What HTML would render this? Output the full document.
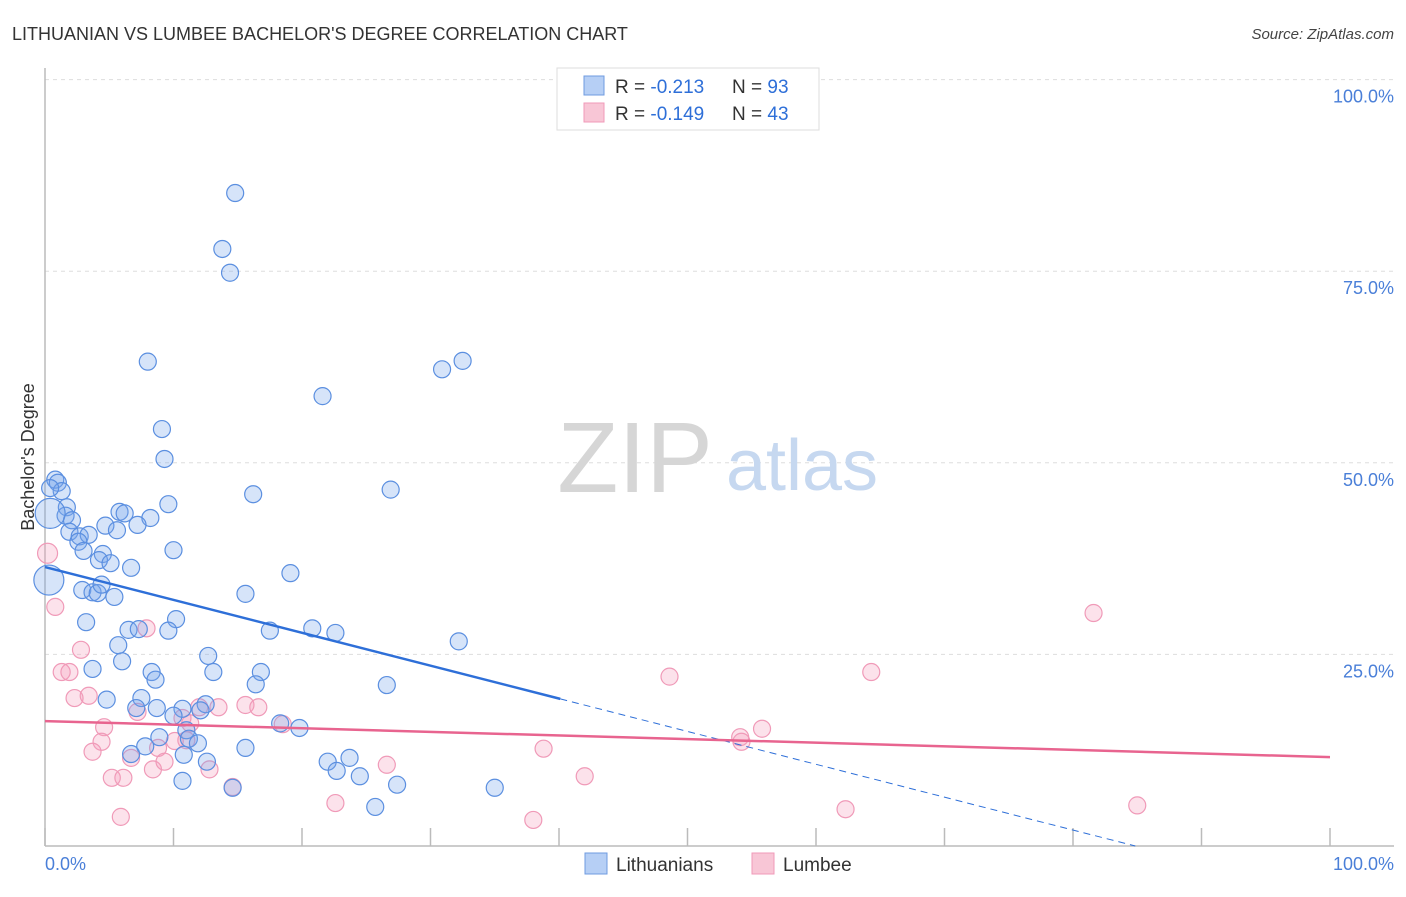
<!DOCTYPE html>
<html><head><meta charset="utf-8"><style>
body{margin:0;background:#fff;font-family:"Liberation Sans",sans-serif;}
svg text{font-family:"Liberation Sans",sans-serif;}
</style></head><body>
<svg id="chart" width="1406" height="892">
<text x="12" y="40" font-size="18" fill="#333">LITHUANIAN VS LUMBEE BACHELOR'S DEGREE CORRELATION CHART</text>
<text x="1394" y="39" font-size="15" fill="#444" font-style="italic" text-anchor="end">Source: ZipAtlas.com</text>
<text x="0" y="0" transform="translate(34,457) rotate(-90)" font-size="18" fill="#333" text-anchor="middle">Bachelor's Degree</text>
<g id="grid"></g>
<g>
<text x="635" y="492" font-size="100" font-family="Liberation Serif" fill="#d6d6d6" text-anchor="middle">ZIP</text>
<text x="802" y="490" font-size="72" fill="#c6d8f0" text-anchor="middle">atlas</text>
</g>
<g id="pts"></g>
<g id="lines"></g>
<g>
<rect x="557" y="68" width="262" height="62" fill="#fff" stroke="#ddd"/>
<rect x="584" y="76" width="20" height="19" fill="#b6cff5" stroke="#6f9be0"/>
<rect x="584" y="103" width="20" height="19" fill="#f8c6d6" stroke="#f09ab8"/>
<text x="615" y="93" font-size="19" fill="#333">R = <tspan fill="#2e6fd8">-0.213</tspan></text>
<text x="732" y="93" font-size="19" fill="#333">N = <tspan fill="#2e6fd8">93</tspan></text>
<text x="615" y="120" font-size="19" fill="#333">R = <tspan fill="#2e6fd8">-0.149</tspan></text>
<text x="732" y="120" font-size="19" fill="#333">N = <tspan fill="#2e6fd8">43</tspan></text>
</g>
<g>
<rect x="585" y="853" width="22" height="21" fill="#b6cff5" stroke="#6f9be0"/>
<text x="616" y="871" font-size="19" fill="#333">Lithuanians</text>
<rect x="752" y="853" width="22" height="21" fill="#f8c6d6" stroke="#f09ab8"/>
<text x="783" y="871" font-size="19" fill="#333">Lumbee</text>
</g>
<text x="45" y="870" font-size="18" fill="#4a7fd8">0.0%</text>
<text x="1394" y="870" font-size="18" fill="#4a7fd8" text-anchor="end">100.0%</text>
</svg>
<script>
const yTicks=[100,75,50,25];
const yTickLabels=["100.0%","75.0%","50.0%","25.0%"];
const xTicks=[0,10,20,30,40,50,60,70,80,90,100];
const blueX=[14.8,13.8,14.4,8.0,32.5,30.9,21.6,9.1,9.3,16.2,26.9,0.8,1.0,1.3,0.4,1.7,1.6,2.1,5.8,6.2,8.2,9.6,4.7,5.6,7.2,1.9,2.7,3.4,2.6,3.0,10.0,4.5,4.2,5.1,6.7,19.1,2.9,3.7,4.1,4.4,5.4,15.6,3.2,10.2,6.5,7.3,9.6,17.5,20.8,22.6,32.2,5.7,6.0,12.7,3.7,8.3,8.6,13.1,16.8,16.4,26.6,4.8,7.5,7.1,8.7,10.7,12.5,12.1,10.0,18.3,19.8,6.7,7.8,8.9,11.0,11.2,11.9,10.8,15.6,12.6,22.0,22.7,23.7,24.5,10.7,14.6,25.7,27.4,35.0,0.4,0.3];
const blueY=[85.2,77.9,74.8,63.2,63.3,62.2,58.7,54.4,50.5,45.9,46.5,47.8,47.4,46.3,46.7,44.2,43.1,42.5,43.6,43.4,42.8,44.6,41.8,41.2,41.9,41.0,40.4,40.6,39.7,38.5,38.6,38.1,37.3,36.9,36.3,35.6,33.4,33.1,33.0,34.1,32.5,32.9,29.2,29.6,28.2,28.3,28.1,28.1,28.4,27.8,26.7,26.2,24.1,24.8,23.1,22.7,21.7,22.7,22.7,21.1,21.0,19.1,19.3,18.0,18.0,17.9,18.5,17.7,17.0,16.0,15.4,12.0,13.0,14.2,15.1,14.0,13.4,11.9,12.8,11.0,11.0,9.8,11.5,9.1,8.5,7.6,5.1,8.0,7.6,43.4,34.7];
const blueBig=[89,90];
const pinkX=[0.2,0.8,2.8,1.3,1.9,2.3,3.4,4.6,4.4,3.7,5.2,6.1,5.9,6.7,7.2,7.9,8.4,8.8,9.3,10.1,10.7,11.3,12.0,13.5,12.8,14.6,15.6,16.6,18.5,22.6,26.6,38.0,38.8,42.0,48.6,54.1,54.2,55.8,64.3,81.6,62.3,85.0,11.0];
const pinkY=[38.2,31.2,25.6,22.7,22.7,19.3,19.6,15.5,13.6,12.3,8.9,8.9,3.8,11.5,17.5,28.4,10.0,12.8,11.0,13.7,16.7,16.0,18.1,18.1,10.0,7.7,18.4,18.1,15.9,5.6,10.6,3.4,12.7,9.1,22.1,14.2,13.6,15.3,22.7,30.4,4.8,5.3,13.8];
const blueTrend=[36.4,-0.429];
const pinkTrend=[16.3,-0.047];
const X=v=>45+v*12.85, Y=v=>846-v*7.664;
const NS="http://www.w3.org/2000/svg";
function mk(tag,attrs,parent){const e=document.createElementNS(NS,tag);for(const k in attrs)e.setAttribute(k,attrs[k]);parent.appendChild(e);return e;}
const grid=document.getElementById('grid');
yTicks.forEach((t,i)=>{
 const l=mk('line',{x1:45,x2:1394,y1:Y(t),y2:Y(t),stroke:'#ddd','stroke-dasharray':'4,4'},grid);
 
 
 const tx=mk('text',{x:1394,y:Y(t)+23,'font-size':18,fill:'#4a7fd8','text-anchor':'end'},grid);
 tx.textContent=yTickLabels[i];
 
 
});
const ax=mk('line',{x1:45,x2:45,y1:68,y2:846,stroke:'#bbb','stroke-width':1.5},grid);


const bx=mk('line',{x1:45,x2:1394,y1:846,y2:846,stroke:'#bbb','stroke-width':1.5},grid);


xTicks.forEach(t=>{
 const l=mk('line',{x1:X(t),x2:X(t),y1:828,y2:846,stroke:'#bbb','stroke-width':1.5},grid);
 
 
});
const pts=document.getElementById('pts');
pinkX.forEach((x,i)=>{
 const c=mk('circle',{cx:X(x),cy:Y(pinkY[i]),r:i===0?10:8.5,fill:'rgba(244,160,190,0.3)',stroke:'#f09ab8','stroke-width':1.2},pts);
 
 
});
blueX.forEach((x,i)=>{
 const big=blueBig.includes(i);
 const c=mk('circle',{cx:X(x),cy:Y(blueY[i]),r:big?15:8.5,fill:'rgba(120,165,235,0.3)',stroke:'#5b8fe0','stroke-width':1.2},pts);
 
 
});
const lines=document.getElementById('lines');
const bEnd=40.1, bZero=-blueTrend[0]/blueTrend[1];
const b1=mk('line',{x1:X(0),y1:Y(blueTrend[0]),x2:X(bEnd),y2:Y(blueTrend[0]+blueTrend[1]*bEnd),stroke:'#2e6fd8','stroke-width':2.5},lines);


const b2=mk('line',{x1:X(bEnd),y1:Y(blueTrend[0]+blueTrend[1]*bEnd),x2:X(bZero),y2:Y(0),stroke:'#2e6fd8','stroke-width':1,'stroke-dasharray':'7,5'},lines);


const p1=mk('line',{x1:X(0),y1:Y(pinkTrend[0]),x2:X(100),y2:Y(pinkTrend[0]+pinkTrend[1]*100),stroke:'#e8648f','stroke-width':2.5},lines);


</script>
</body></html>
